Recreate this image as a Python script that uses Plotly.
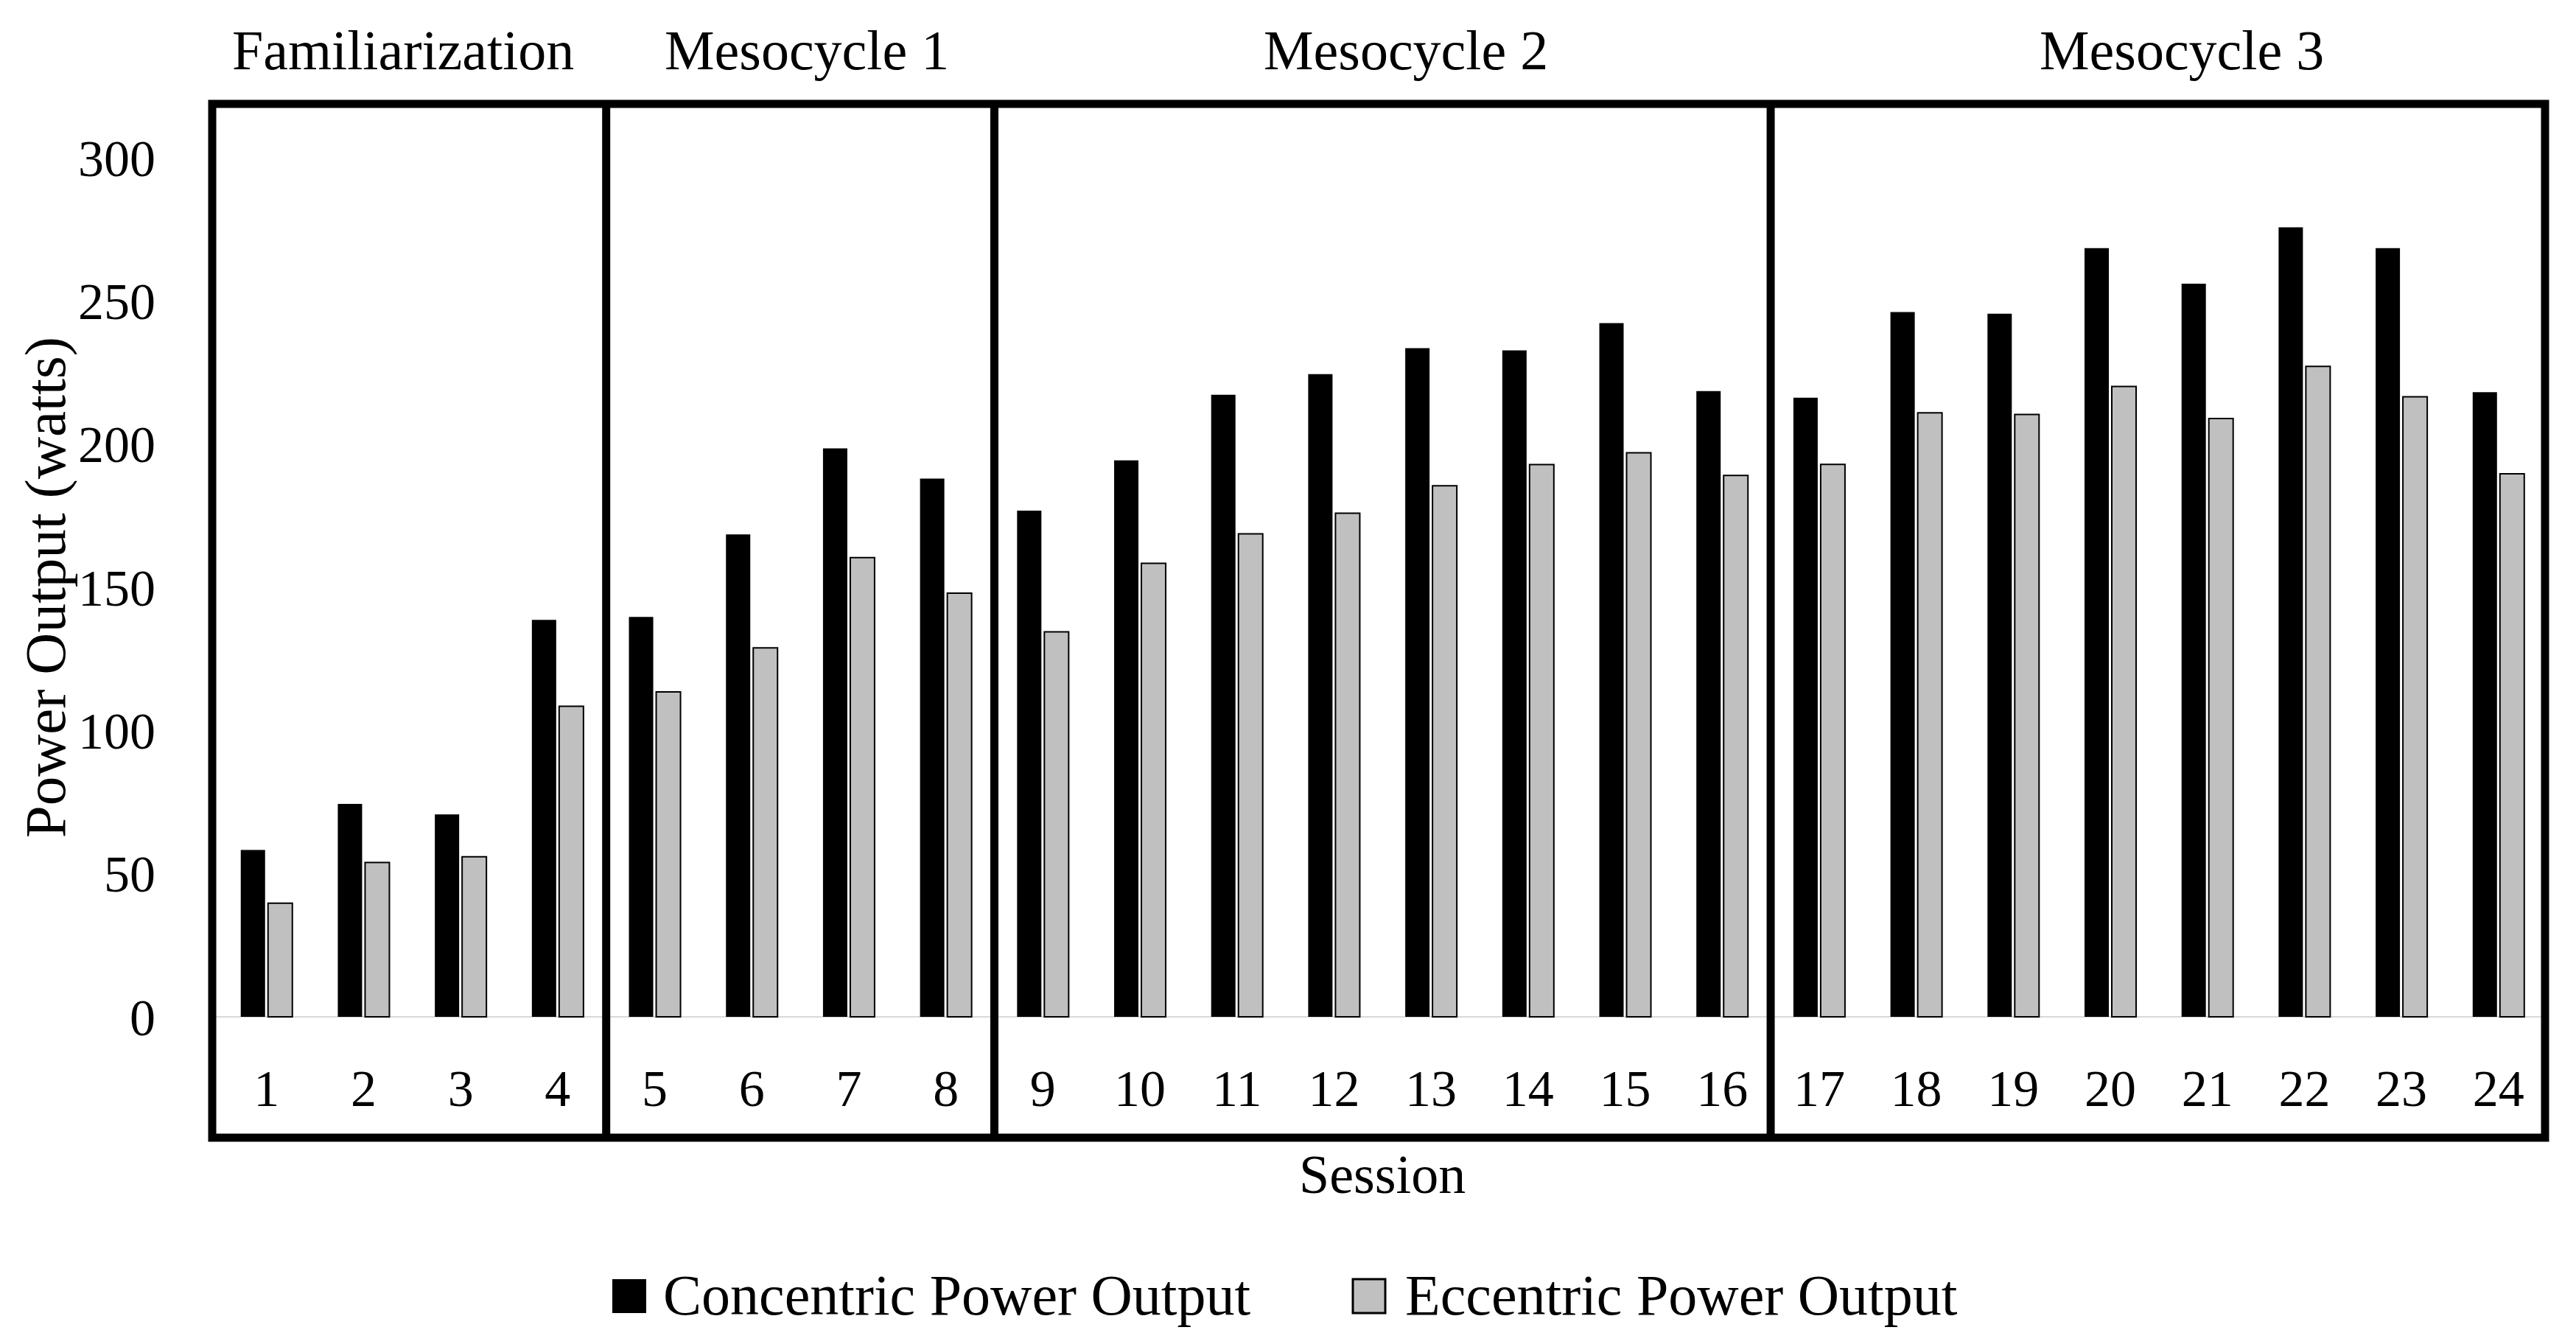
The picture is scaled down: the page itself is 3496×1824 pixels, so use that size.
import plotly.graph_objects as go

sessions = list(range(1, 25))
tick_labels = [str(s) for s in sessions]
concentric = [58.3, 74.4, 70.7, 138.7, 139.7, 168.5, 198.6, 188.0, 176.8, 194.4,
              217.3, 224.5, 233.6, 232.8, 242.3, 218.6, 216.3, 246.2, 245.6, 268.5,
              256.1, 275.8, 268.5, 218.2]
eccentric = [39.7, 53.9, 55.9, 108.5, 113.5, 128.9, 160.4, 148.0, 134.5, 158.4,
             168.7, 175.9, 185.5, 192.9, 197.0, 189.1, 193.0, 211.0, 210.4, 220.2,
             209.0, 227.2, 216.6, 189.7]
series_names = ["Concentric Power Output", "Eccentric Power Output"]
phase_names = ["Familiarization", "Mesocycle 1", "Mesocycle 2", "Mesocycle 3"]
phase_bounds = [4.5, 8.5, 16.5]
y_ticks = [0, 50, 100, 150, 200, 250, 300]

W, H = 3496, 1824
L, R, T, B = 288, 42, 141, 280
PW, PH = W - L - R, H - T - B
FONT = "Liberation Serif"


def px_x(px):
    return (px - L) / PW


def px_y(py):
    return (H - B - py) / PH


fig = go.Figure()
fig.add_trace(go.Bar(x=sessions, y=concentric, name=series_names[0],
                     marker=dict(color="#000000", line=dict(width=0)),
                     showlegend=False))
fig.add_trace(go.Bar(x=sessions, y=eccentric, name=series_names[1],
                     marker=dict(color="#C0C0C0", line=dict(color="#000000", width=2)),
                     showlegend=False))

shapes = [dict(type="rect", xref="paper", yref="paper", x0=0, x1=1, y0=0, y1=1,
               line=dict(color="black", width=11), layer="above")]
for b in phase_bounds:
    shapes.append(dict(type="line", xref="x", yref="paper", x0=b, x1=b, y0=0, y1=1,
                       line=dict(color="black", width=11), layer="above"))

# legend squares
shapes.append(dict(type="rect", xref="paper", yref="paper",
                   x0=px_x(831), x1=px_x(877), y0=px_y(1782), y1=px_y(1736),
                   fillcolor="#000000", line=dict(width=0)))
shapes.append(dict(type="rect", xref="paper", yref="paper",
                   x0=px_x(1836), x1=px_x(1880), y0=px_y(1782), y1=px_y(1736),
                   fillcolor="#C0C0C0", line=dict(color="black", width=3)))

annotations = []
phase_x = [2.405, 6.565, 12.74, 20.74]
for name, xc in zip(phase_names, phase_x):
    annotations.append(dict(text=name, x=xc, xref="x", y=px_y(68), yref="paper",
                            showarrow=False, xanchor="center", yanchor="middle",
                            font=dict(family=FONT, size=76, color="black")))
annotations.append(dict(text=series_names[0], x=px_x(898), xref="paper", y=px_y(1757),
                        yref="paper", showarrow=False, xanchor="left", yanchor="middle",
                        font=dict(family=FONT, size=78, color="black")))
annotations.append(dict(text=series_names[1], x=px_x(1905), xref="paper", y=px_y(1757),
                        yref="paper", showarrow=False, xanchor="left", yanchor="middle",
                        font=dict(family=FONT, size=78, color="black")))
annotations.append(dict(text="Power Output (watts)", textangle=-90, x=px_x(61), xref="paper",
                        y=150, yref="y", showarrow=False, xanchor="center", yanchor="middle",
                        font=dict(family=FONT, size=79, color="black")))
annotations.append(dict(text="Session", x=px_x(1876), xref="paper", y=px_y(1594), yref="paper",
                        showarrow=False, xanchor="center", yanchor="middle",
                        font=dict(family=FONT, size=74, color="black")))

fig.update_layout(
    width=W, height=H,
    margin=dict(l=L, r=R, t=T, b=B, pad=0),
    paper_bgcolor="white", plot_bgcolor="white",
    barmode="group", bargap=0.438, bargroupgap=0.108,
    showlegend=False,
    shapes=shapes, annotations=annotations,
    font=dict(family=FONT, color="black"),
)
fig.update_xaxes(range=[0.44, 24.48], tickmode="array", tickvals=sessions, ticktext=tick_labels,
                 ticklabelposition="inside", ticks="inside", ticklen=40,
                 tickcolor="rgba(0,0,0,0)", showgrid=False, zeroline=False, showline=False,
                 tickfont=dict(family=FONT, size=70, color="black"))
fig.update_yaxes(range=[-42.2, 318.9], tickmode="array", tickvals=y_ticks,
                 ticks="outside", ticklen=62, tickcolor="rgba(0,0,0,0)",
                 showgrid=False, zeroline=True, zerolinecolor="#D9D9D9", zerolinewidth=2,
                 showline=False, tickfont=dict(family=FONT, size=70, color="black"))

fig.write_html("out.html", config={"displayModeBar": False},
               post_script="document.body.style.margin='0px';document.body.style.overflow='hidden';")
